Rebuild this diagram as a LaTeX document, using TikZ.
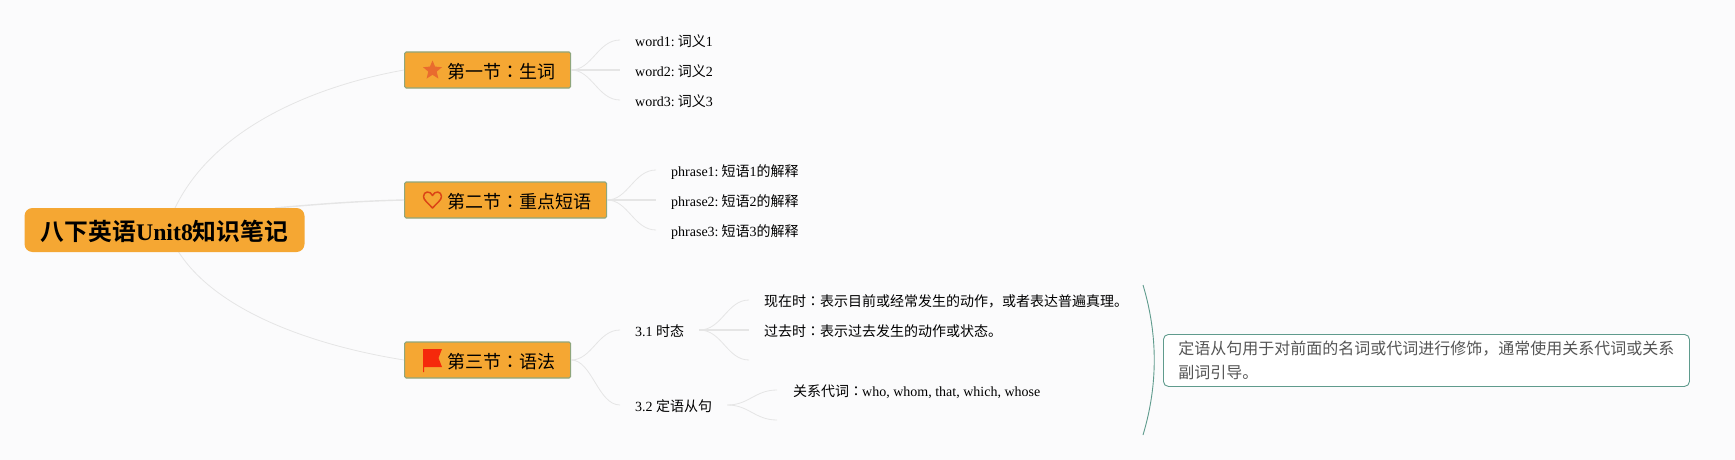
\documentclass[tikz,border=0pt]{standalone}
\usepackage{fontspec}
\setmainfont{Liberation Serif}
\newfontfamily\zh{Noto Sans CJK SC}[BoldFont={Noto Sans CJK SC Bold}]
\newfontfamily\zt{Noto Sans CJK TC}
\newcommand{\zz}[1]{{\zh #1}}
\newcommand{\zc}{{\zt ：}}
\newcommand{\gp}{\hspace{3pt}}
\definecolor{bgc}{HTML}{FBFBFC}
\definecolor{orangefill}{HTML}{F5A733}
\definecolor{boxedge}{HTML}{8FA67C}
\definecolor{linkc}{HTML}{E5E5E5}
\definecolor{tealc}{HTML}{5F9B8D}
\definecolor{notetext}{HTML}{555555}
\definecolor{starc}{HTML}{E96B2E}
\definecolor{heartc}{HTML}{DB4516}
\definecolor{flagc}{HTML}{F5290B}
\tikzset{
  x=1pt,y=-1pt,
  rootbox/.style={fill=orangefill,rounded corners=8pt,minimum width=280pt,minimum height=44pt,inner sep=0pt,text height=23pt,text depth=1.2pt,font=\fontsize{23.8}{24}\selectfont\bfseries},
  secbox/.style={fill=orangefill,draw=boxedge,line width=1.1pt,rounded corners=1.5pt,anchor=west,minimum height=36pt,inner ysep=0pt,inner xsep=15pt,text height=17pt,text depth=1pt,font=\fontsize{18}{18}\selectfont},
  leaf/.style={anchor=west,inner ysep=0pt,inner xsep=15pt,text height=14pt,text depth=0.4pt,font=\fontsize{14}{14}\selectfont},
  notebox/.style={fill=white,draw=tealc,line width=0.9pt,rounded corners=5pt,anchor=north west,minimum width=526pt,minimum height=52pt,inner xsep=15pt,inner ysep=0pt,text width=496pt,align=left,text=notetext,font=\fontsize{16}{24}\selectfont},
  link/.style={draw=linkc,line width=0.8pt},
  thicklink/.style={draw=linkc,line width=1.4pt},
  bracketline/.style={draw=tealc,line width=0.9pt},
}
\begin{document}
\begin{tikzpicture}
\useasboundingbox (0,0) rectangle (1735,460);
\fill[bgc] (0,0) rectangle (1735,460);

% anchors on the root's border and empty branch ends
\coordinate (rt1) at (175,208);
\coordinate (rt2) at (275,208);
\coordinate (rt3) at (178,251);
\coordinate (blank1) at (749,360);
\coordinate (blank2) at (777,420);
\coordinate (brtop) at (1143,285);
\coordinate (brbot) at (1143,435);

% sections
\node[secbox] (s1) at (404,70) {\hspace*{28pt}\zz{第一节}\zc\zz{生词}};
\node[secbox] (s2) at (404,200) {\hspace*{28pt}\zz{第二节}\zc\zz{重点短语}};
\node[secbox] (s3) at (404,360) {\hspace*{28pt}\zz{第三节}\zc\zz{语法}};

% root
\draw[link] (rt1) .. controls (215,125) and (320,85) .. (s1.west);
\draw[thicklink] (rt2) .. controls (320,204) and (360,201) .. (s2.west);
\draw[link] (rt3) .. controls (215,310) and (310,345) .. (s3.west);
\node[rootbox] (root) at (164.5,230) {\zz{八下英语}Unit8\zz{知识笔记}};

% leaves
\node[leaf] (w1) at (620,40) {word1:\gp\zz{词义}1};
\node[leaf] (w2) at (620,70) {word2:\gp\zz{词义}2};
\node[leaf] (w3) at (620,100) {word3:\gp\zz{词义}3};
\node[leaf] (p1) at (656,170) {phrase1:\gp\zz{短语}1\zz{的解释}};
\node[leaf] (p2) at (656,200) {phrase2:\gp\zz{短语}2\zz{的解释}};
\node[leaf] (p3) at (656,230) {phrase3:\gp\zz{短语}3\zz{的解释}};
\node[leaf] (g1) at (620,330) {3.1 \zz{时态}};
\node[leaf] (g2) at (620,405) {3.2 \zz{定语从句}};
\node[leaf] (t1) at (749,300) {\zz{现在时}\zc\zz{表示目前或经常发生的动作，或者表达普遍真理。}};
\node[leaf] (t2) at (749,330) {\zz{过去时}\zc\zz{表示过去发生的动作或状态。}};
\node[leaf,inner xsep=16pt] (r1) at (777,390) {\zz{关系代词}\zc\hspace{-1pt}who, whom, that, which, whose};

% branches
\draw[link] (s1.east) .. controls (592,70) and (598,40) .. (w1.west);
\draw[thicklink] (s1.east) -- (w2.west);
\draw[link] (s1.east) .. controls (592,70) and (598,100) .. (w3.west);
\draw[link] (s2.east) .. controls (628,200) and (634,170) .. (p1.west);
\draw[thicklink] (s2.east) -- (p2.west);
\draw[link] (s2.east) .. controls (628,200) and (634,230) .. (p3.west);
\draw[link] (s3.east) .. controls (592,360) and (598,330) .. (g1.west);
\draw[link] (s3.east) .. controls (592,360) and (598,405) .. (g2.west);
\draw[link] (g1.east) .. controls (722,330) and (727,300) .. (t1.west);
\draw[thicklink] (g1.east) -- (t2.west);
\draw[link] (g1.east) .. controls (722,330) and (727,360) .. (blank1);
\draw[link] (g2.east) .. controls (749,405) and (755,390) .. (r1.west);
\draw[link] (g2.east) .. controls (749,405) and (755,420) .. (blank2);

% icons
\fill[starc] (432.5,60.5)
  -- (435.1,66.6) -- (442,67.2) -- (436.7,71.6) -- (438.4,78.6)
  -- (432.5,74.8) -- (426.6,78.6) -- (428.3,71.6) -- (423,67.2)
  -- (429.9,66.6) -- cycle;
\draw[heartc,line width=1.5pt,line join=round] (432.5,208)
  .. controls (428,203) and (423.5,200) .. (423.5,196.5)
  .. controls (423.5,191) and (430.5,190.5) .. (432.5,195.5)
  .. controls (434.5,190.5) and (441.5,191) .. (441.5,196.5)
  .. controls (441.5,200) and (437,203) .. (432.5,208) -- cycle;
\fill[flagc] (423,349) -- (442,349) -- (438.5,358) -- (442,367) -- (424.2,367) -- (424.2,372) -- (423,372) -- cycle;

% bracket and note
\draw[bracketline] (brtop) .. controls (1158,335) and (1158,385) .. (brbot);
\node[notebox] (note) at (1163,334) {\zz{定语从句用于对前面的名词或代词进行修饰，通常使用关系代词或关系}\\\zz{副词引导。}};
\end{tikzpicture}
\end{document}
